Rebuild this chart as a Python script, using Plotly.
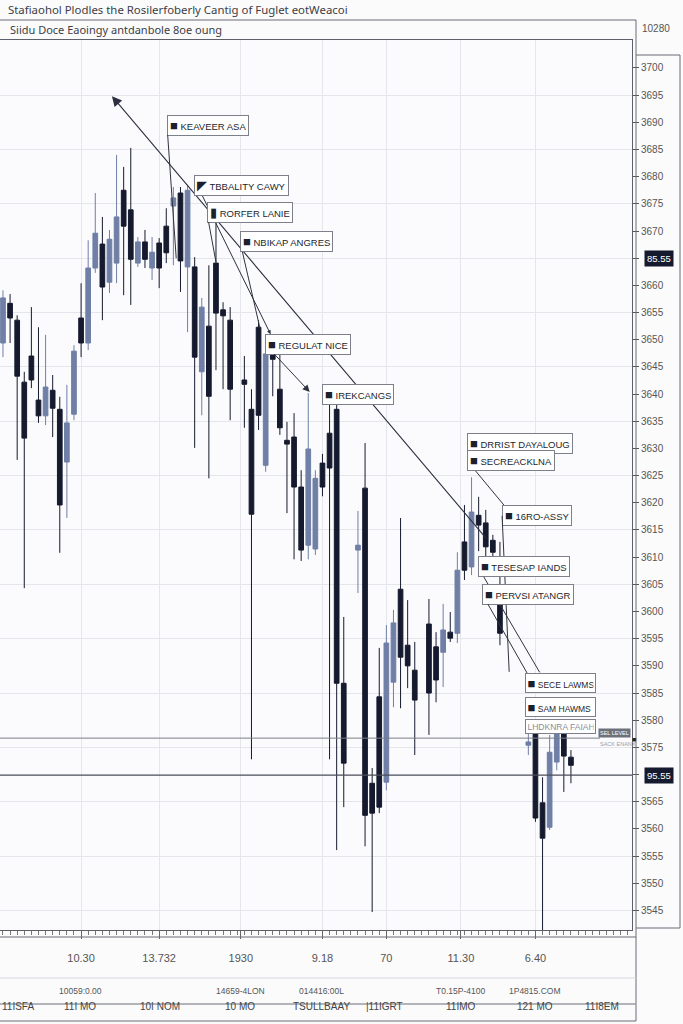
import plotly.graph_objects as go

# ---------------- data ----------------
title_text = "Stafiaohol Plodles the Rosilerfoberly Cantig of Fuglet eotWeacoi"
subtitle_text = "Siidu Doce Eaoingy antdanbole 8oe oung"

candle_idx = [0, 1, 2, 3, 4, 5, 6, 7, 8, 9, 10, 11, 12, 13, 14, 15, 16, 17, 18, 19,
              20, 21, 22, 23, 24, 25, 26, 27, 28, 29, 30, 31, 32, 34, 35, 36, 37, 38, 39, 40,
              41, 42, 43, 44, 45, 46, 47, 48, 50, 51, 52, 53, 54, 55, 56, 57, 58, 60, 61, 62,
              63, 64, 65, 66, 67, 68, 69, 70, 74, 75, 76, 77, 78, 79, 80]
opens = [3649.4, 3656.7, 3653.6, 3642.2, 3647.0, 3638.9, 3636.0, 3640.7, 3637.2, 3627.5,
         3636.3, 3654.0, 3649.4, 3663.2, 3667.6, 3660.6, 3664.1, 3677.5, 3673.9, 3664.1,
         3668.0, 3663.2, 3667.8, 3670.9, 3674.6, 3677.0, 3663.4, 3663.4, 3644.1, 3652.5,
         3664.1, 3655.5, 3653.6, 3642.6, 3637.2, 3652.3, 3626.9, 3647.2, 3640.9, 3631.5,
         3632.1, 3622.9, 3612.2, 3611.5, 3627.3, 3632.8, 3637.2, 3586.8, 3611.3, 3622.7,
         3568.4, 3584.3, 3568.6, 3587.0, 3604.1, 3593.8, 3589.2, 3597.7, 3593.5, 3592.5,
         3596.2, 3596.0, 3612.8, 3608.2, 3617.7, 3616.3, 3613.1, 3601.6, 3575.4, 3577.6,
         3564.8, 3560.3, 3572.3, 3577.6, 3573.2]
highs = [3659.1, 3658.4, 3654.5, 3644.1, 3656.0, 3652.3, 3650.9, 3643.5, 3639.5, 3641.7,
         3649.0, 3660.4, 3668.3, 3677.0, 3672.6, 3670.2, 3684.0, 3681.8, 3685.3, 3668.9,
         3670.2, 3668.9, 3668.7, 3674.2, 3678.1, 3678.1, 3678.5, 3665.2, 3657.7, 3663.7,
         3672.6, 3656.9, 3656.0, 3647.0, 3640.9, 3653.6, 3649.0, 3648.1, 3647.4, 3634.9,
         3636.5, 3626.0, 3640.2, 3626.0, 3629.0, 3638.2, 3638.2, 3599.0, 3618.5, 3631.0,
         3571.2, 3593.3, 3597.5, 3600.3, 3617.2, 3602.1, 3594.4, 3602.3, 3596.2, 3601.4,
         3599.9, 3610.9, 3619.6, 3624.7, 3621.1, 3618.7, 3614.1, 3612.8, 3577.6, 3578.6,
         3569.5, 3577.3, 3579.1, 3578.2, 3574.5]
lows = [3646.8, 3649.4, 3627.9, 3604.3, 3641.1, 3634.7, 3634.3, 3632.1, 3610.8, 3617.2,
        3635.2, 3646.8, 3648.1, 3662.3, 3653.6, 3658.6, 3660.4, 3658.2, 3656.4, 3663.4,
        3663.2, 3661.0, 3659.5, 3664.1, 3663.7, 3658.8, 3651.4, 3630.1, 3636.1, 3624.5,
        3644.4, 3640.9, 3635.2, 3633.8, 3572.8, 3633.4, 3625.7, 3639.6, 3632.5, 3618.1,
        3609.6, 3609.3, 3609.6, 3610.4, 3621.2, 3572.8, 3556.1, 3564.0, 3603.4, 3556.8,
        3544.7, 3562.9, 3567.1, 3582.4, 3582.2, 3585.9, 3573.6, 3577.3, 3583.3, 3586.1,
        3594.4, 3594.2, 3605.8, 3606.7, 3611.1, 3609.5, 3609.5, 3593.8, 3573.6, 3561.3,
        3536.0, 3559.8, 3570.8, 3566.8, 3568.4]
closes = [3657.7, 3654.0, 3643.3, 3631.9, 3642.6, 3636.0, 3641.3, 3637.4, 3619.6, 3634.7,
          3647.9, 3649.4, 3663.2, 3669.6, 3659.7, 3668.5, 3672.6, 3670.9, 3664.8, 3668.0,
          3664.8, 3666.1, 3663.2, 3666.0, 3676.1, 3664.5, 3677.5, 3646.8, 3656.0, 3639.6,
          3654.9, 3654.4, 3640.9, 3641.8, 3617.9, 3636.1, 3647.4, 3646.4, 3633.8, 3630.8,
          3622.9, 3611.3, 3629.9, 3624.5, 3622.9, 3626.4, 3586.8, 3572.1, 3612.2, 3562.5,
          3562.9, 3564.0, 3594.2, 3597.9, 3591.6, 3590.0, 3583.7, 3585.0, 3587.4, 3596.6,
          3595.1, 3607.6, 3607.6, 3618.3, 3615.9, 3611.9, 3610.9, 3596.0, 3576.0, 3562.0,
          3558.3, 3574.1, 3577.6, 3573.4, 3571.7]

y_tick_values = [3545 + 5 * k for k in range(32)]
y_grid_values = [3545 + 10 * k for k in range(16)]
top_tick_label = "10280"

x_tick_idx = [11, 22, 33.5, 45, 54, 64.5, 75]
x_tick_labels = ["10.30", "13.732", "1930", "9.18", "70", "11.30", "6.40"]
x_extra_label = "11MBST"
row2_idx = [10.9, 33.4, 44.9, 64.4, 74.9]
row2_labels = ["10059:0.00", "14659-4LON", "014416:00L", "T0.15P-4100", "1P4815.COM"]
row3_idx = [2.1, 10.9, 22.1, 33.4, 44.9, 53.8, 64.4, 74.9, 84.4]
row3_labels = ["11ISFA", "11I MO", "10I NOM", "10 MO", "TSULLBAAY", "|11IGRT", "11IMO", "121 MO", "11I8EM"]

level_prices = [3576.7, 3569.9]
badge_prices = [3665.0, 3569.9]
badge_labels = ["85.55", "95.55"]

trend_start = (68.3, 3613.1)
trend_end = (15.35, 3694.8)

# label texts, markers and anchor/arrow-head points (index, price)
label_texts = ["KEAVEER ASA", "TBBALITY CAWY", "RORFER LANIE", "NBIKAP ANGRES", "REGULAT NICE",
               "IREKCANGS", "DRRIST DAYALOUG", "SECREACKLNA", "16RO-ASSY", "TESESAP IANDS",
               "PERVSI ATANGR", "SECE LAWMS", "SAM HAWMS", "LHDKNRA FAIAH"]
label_markers = ["■", "◤", "▮", "■", "■", "■", "■", "■", "■", "■", "■", "■", "■", ""]
label_pos = [(23.1, 3689.5), (26.9, 3678.3), (28.7, 3673.5), (33.4, 3668.0), (36.9, 3649.2),
             (44.9, 3640.0), (65.4, 3631.0), (65.4, 3627.7), (70.3, 3617.6), (66.9, 3608.2),
             (67.5, 3603.2), (73.5, 3586.8), (73.5, 3582.4), (73.5, 3578.9)]
label_heads = [(24.4, 3665.0), None, (30.0, 3664.3), (36.2, 3652.1), (43.2, 3640.4),
               None, None, (70.8, 3619.2), (71.3, 3588.9), (75.6, 3588.8),
               (73.9, 3588.5), None, None, None]
link_start = (27.7, 3677.5)
link_end = (37.7, 3651.0)

# ---------------- figure ----------------
DARK = "#151a2e"
LIGHT = "#6f7fa6"

fig = go.Figure()
fig.add_trace(go.Candlestick(
    x=candle_idx, open=opens, high=highs, low=lows, close=closes,
    increasing=dict(line=dict(color=LIGHT, width=1), fillcolor=LIGHT),
    decreasing=dict(line=dict(color=DARK, width=1), fillcolor=DARK),
    whiskerwidth=0, showlegend=False, hoverinfo="skip",
))

W, H = 683, 1024
ML, MR, MT, MB = 0, 51, 40, 94
PW, PH = W - ML - MR, H - MT - MB


def px(xp):
    return (xp - ML) / PW


def py(yp):
    return (H - MB - yp) / PH


font_main = "Liberation Sans, Arial, sans-serif"
annotations = []

# title / subtitle
annotations.append(dict(xref="paper", yref="paper", x=px(6), y=py(10), text=title_text,
                        showarrow=False, xanchor="left", yanchor="middle",
                        font=dict(family="Noto Sans, sans-serif", size=11.4, color="#3d3d45")))
annotations.append(dict(xref="paper", yref="paper", x=px(8), y=py(29), text=subtitle_text,
                        showarrow=False, xanchor="left", yanchor="middle",
                        font=dict(family="Noto Sans, sans-serif", size=11, color="#3d3d45")))

# trend line
annotations.append(dict(x=trend_end[0], y=trend_end[1], ax=trend_start[0], ay=trend_start[1],
                        xref="x", yref="y", axref="x", ayref="y", text="", showarrow=True,
                        arrowhead=2, arrowsize=1.8, arrowwidth=1.1, arrowcolor="#2b2f3f"))
annotations.append(dict(x=link_end[0], y=link_end[1], ax=link_start[0], ay=link_start[1],
                        xref="x", yref="y", axref="x", ayref="y", text="", showarrow=True,
                        arrowhead=2, arrowsize=0.8, arrowwidth=1, arrowcolor="#2b2f3f"))

# labels
for i, t in enumerate(label_texts):
    mk = label_markers[i]
    txt = (f"<span style='font-size:13px'>{mk}</span> " if mk else "") + t
    color = "#8a8d96" if not mk else "#1c1f2c"
    base = dict(xref="x", yref="y", text=txt, xanchor="left", yanchor="middle",
                font=dict(family=font_main, size=9.5, color=color),
                bgcolor="white", bordercolor="#7d808a", borderwidth=1, borderpad=2)
    if i >= 11:
        base["width"] = 66
        base["align"] = "left"
        base["font"]["size"] = 8.5
        base["borderpad"] = 1.5
    head = label_heads[i]
    if head is None:
        base.update(x=label_pos[i][0], y=label_pos[i][1], showarrow=False)
    else:
        base.update(x=head[0], y=head[1], ax=label_pos[i][0], ay=label_pos[i][1],
                    axref="x", ayref="y", showarrow=True, arrowhead=0,
                    arrowwidth=1, arrowcolor="#30333f")
        if i == 4:
            base.update(arrowhead=2, arrowsize=1.4)
    annotations.append(base)

# price badges on right axis
for p, lab in zip(badge_prices, badge_labels):
    annotations.append(dict(xref="paper", yref="y", x=1, y=p, xanchor="left", yanchor="middle",
                            xshift=12, text=lab, showarrow=False, bgcolor=DARK,
                            font=dict(family=font_main, size=9.5, color="white"), borderpad=2))
annotations.append(dict(xref="paper", yref="paper", x=1, y=py(28), xanchor="left",
                        yanchor="middle", xshift=8, text=top_tick_label, showarrow=False,
                        font=dict(family=font_main, size=10, color="#555")))

# small level tag
annotations.append(dict(xref="paper", yref="y", x=px(598), y=level_prices[0] + 0.9,
                        xanchor="left", yanchor="middle", text="SEL LEVEL", showarrow=False,
                        bgcolor="#6d717c", font=dict(family=font_main, size=5.5, color="white")))
annotations.append(dict(xref="paper", yref="y", x=px(598), y=level_prices[0] - 1.0,
                        xanchor="left", yanchor="middle", text="SACK ENANX", showarrow=False,
                        font=dict(family=font_main, size=5.5, color="#9a9da6")))
annotations.append(dict(xref="paper", yref="y", x=1, y=level_prices[0] - 0.2, xanchor="center",
                        yanchor="middle", xshift=2, text="■", showarrow=False,
                        font=dict(family=font_main, size=7, color="#222")))

# bottom rows
annotations.append(dict(xref="x", yref="paper", x=91.2, y=py(958), text=x_extra_label,
                        showarrow=False, font=dict(family=font_main, size=11, color="#555")))
for xv, lab in zip(row2_idx, row2_labels):
    annotations.append(dict(xref="x", yref="paper", x=xv, y=py(998), text=lab, showarrow=False,
                            font=dict(family=font_main, size=8.5, color="#555")))
for xv, lab in zip(row3_idx, row3_labels):
    annotations.append(dict(xref="x", yref="paper", x=xv, y=py(1014), text=lab, showarrow=False,
                            font=dict(family=font_main, size=10, color="#444")))

shapes = []
# level lines
shapes.append(dict(type="line", xref="paper", yref="y", x0=0, x1=px(600),
                   y0=level_prices[0], y1=level_prices[0], line=dict(color="#7b7e88", width=1)))
shapes.append(dict(type="line", xref="paper", yref="y", x0=0, x1=1,
                   y0=level_prices[1], y1=level_prices[1], line=dict(color="#4a4d58", width=1.2)))
# frame lines
frame = dict(color="#6a6d77", width=1)
shapes.append(dict(type="line", xref="paper", yref="paper", x0=0, x1=px(636), y0=py(20), y1=py(20), line=frame))
shapes.append(dict(type="line", xref="paper", yref="paper", x0=px(636), x1=px(636), y0=py(20), y1=py(1021), line=frame))
shapes.append(dict(type="line", xref="paper", yref="paper", x0=px(636), x1=px(680), y0=py(55), y1=py(55), line=frame))
shapes.append(dict(type="line", xref="paper", yref="paper", x0=px(680), x1=px(680), y0=py(55), y1=py(928), line=frame))
shapes.append(dict(type="line", xref="paper", yref="paper", x0=px(636), x1=px(680), y0=py(928), y1=py(928), line=frame))
shapes.append(dict(type="line", xref="paper", yref="paper", x0=0, x1=px(636), y0=py(937), y1=py(937), line=frame))
shapes.append(dict(type="line", xref="paper", yref="paper", x0=0, x1=px(636), y0=py(978), y1=py(978),
                   line=dict(color="#d6d8de", width=1)))
shapes.append(dict(type="line", xref="paper", yref="paper", x0=0, x1=px(636), y0=py(1004), y1=py(1004),
                   line=dict(color="#9a9ca4", width=1.5)))
shapes.append(dict(type="line", xref="paper", yref="paper", x0=0, x1=px(636), y0=py(1021), y1=py(1021), line=frame))

# tick labels hidden where a price badge sits
y_tick_text = ["" if any(abs(v - b) < 1 for b in badge_prices) else str(v) for v in y_tick_values]

fig.update_layout(
    width=W, height=H,
    margin=dict(l=ML, r=MR, t=MT, b=MB),
    paper_bgcolor="#fbfbfc", plot_bgcolor="#fbfbfd",
    boxgap=0.06,
    showlegend=False,
    annotations=annotations,
    shapes=shapes,
    xaxis=dict(
        range=[-0.42, 88.6], rangeslider=dict(visible=False),
        tickvals=x_tick_idx, ticktext=x_tick_labels,
        showgrid=True, gridcolor="#e4e6eb", gridwidth=1, zeroline=False,
        ticks="outside", ticklen=8, tickcolor="#666",
        minor=dict(dtick=1, ticks="outside", ticklen=4, tickcolor="#777", showgrid=False),
        showline=True, linecolor="#5d606a", mirror=True,
        tickfont=dict(family=font_main, size=11, color="#555"),
        ticklabelstandoff=10,
    ),
    yaxis=dict(
        side="right", range=[3541.4, 3705.15],
        tickvals=y_tick_values, ticktext=y_tick_text,
        showgrid=False, zeroline=False,
        ticks="outside", ticklen=6, tickcolor="#555",
        minor=dict(tickvals=y_grid_values, ticks="", showgrid=True,
                   gridcolor="#e4e6eb", gridwidth=1),
        showline=True, linecolor="#5d606a", mirror=True,
        tickfont=dict(family=font_main, size=10, color="#555"),
    ),
)

fig.write_html("out.html", config={"displayModeBar": False},
               post_script="document.body.style.margin='0';document.body.style.overflow='hidden';")
